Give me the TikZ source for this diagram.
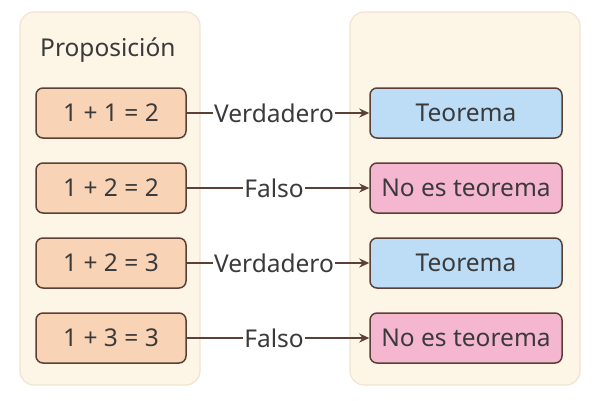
\documentclass[tikz,border=0pt]{standalone}
\usepackage{fontspec}
\setmainfont{Noto Sans}
\usetikzlibrary{arrows.meta}
\definecolor{panel}{HTML}{FDF5E6}
\definecolor{panelb}{HTML}{F0E4D0}
\definecolor{peach}{HTML}{F8D3B6}
\definecolor{brownb}{HTML}{5A4035}
\definecolor{blueb}{HTML}{BCDDF5}
\definecolor{pinkb}{HTML}{F5B7CF}
\definecolor{txt}{HTML}{3A3A3A}
\tikzset{
 panelbox/.style={draw=panelb,fill=panel,rounded corners=14pt,line width=1.2pt},
 prop/.style={draw=brownb,fill=peach,rounded corners=7pt,line width=1.5pt,minimum width=150pt,minimum height=50pt,text=txt,font=\fontsize{24.5}{28}\selectfont},
 res/.style={draw=brownb,rounded corners=7pt,line width=1.5pt,minimum width=192pt,minimum height=50pt,text=txt,font=\fontsize{24.5}{28}\selectfont},
 lbl/.style={text=txt,font=\fontsize{24.5}{28}\selectfont,inner sep=1pt},
 conn/.style={draw=brownb,line width=1.5pt,-{Stealth[length=10pt,width=9pt]}},
}
\begin{document}
\begin{tikzpicture}[x=1pt,y=-1pt]
\useasboundingbox (0,0) rectangle (600,400);
\draw[panelbox] (20,12) rectangle (200,385);
\draw[panelbox] (350,12) rectangle (580,385);
\node[lbl,anchor=west] (title) at (39,50) {Proposición};
\foreach \i/\p/\r/\c/\l in {1/{1 + 1 = 2}/Teorema/blueb/Verdadero,2/{1 + 2 = 2}/No es teorema/pinkb/Falso,3/{1 + 2 = 3}/Teorema/blueb/Verdadero,4/{1 + 3 = 3}/No es teorema/pinkb/Falso}{
 \pgfmathsetmacro\yy{113+75*(\i-1)}
 \node[prop] (p\i) at (111,\yy) {\p};
 \node[res,fill=\c] (r\i) at (466,\yy) {\r};
 \node[lbl] (l\i) at (274,\yy) {\l};
 \draw[draw=brownb,line width=1.5pt] (p\i.east) -- (l\i.west);
 \draw[conn] (l\i.east) -- (r\i.west);
}
\end{tikzpicture}
\end{document}
